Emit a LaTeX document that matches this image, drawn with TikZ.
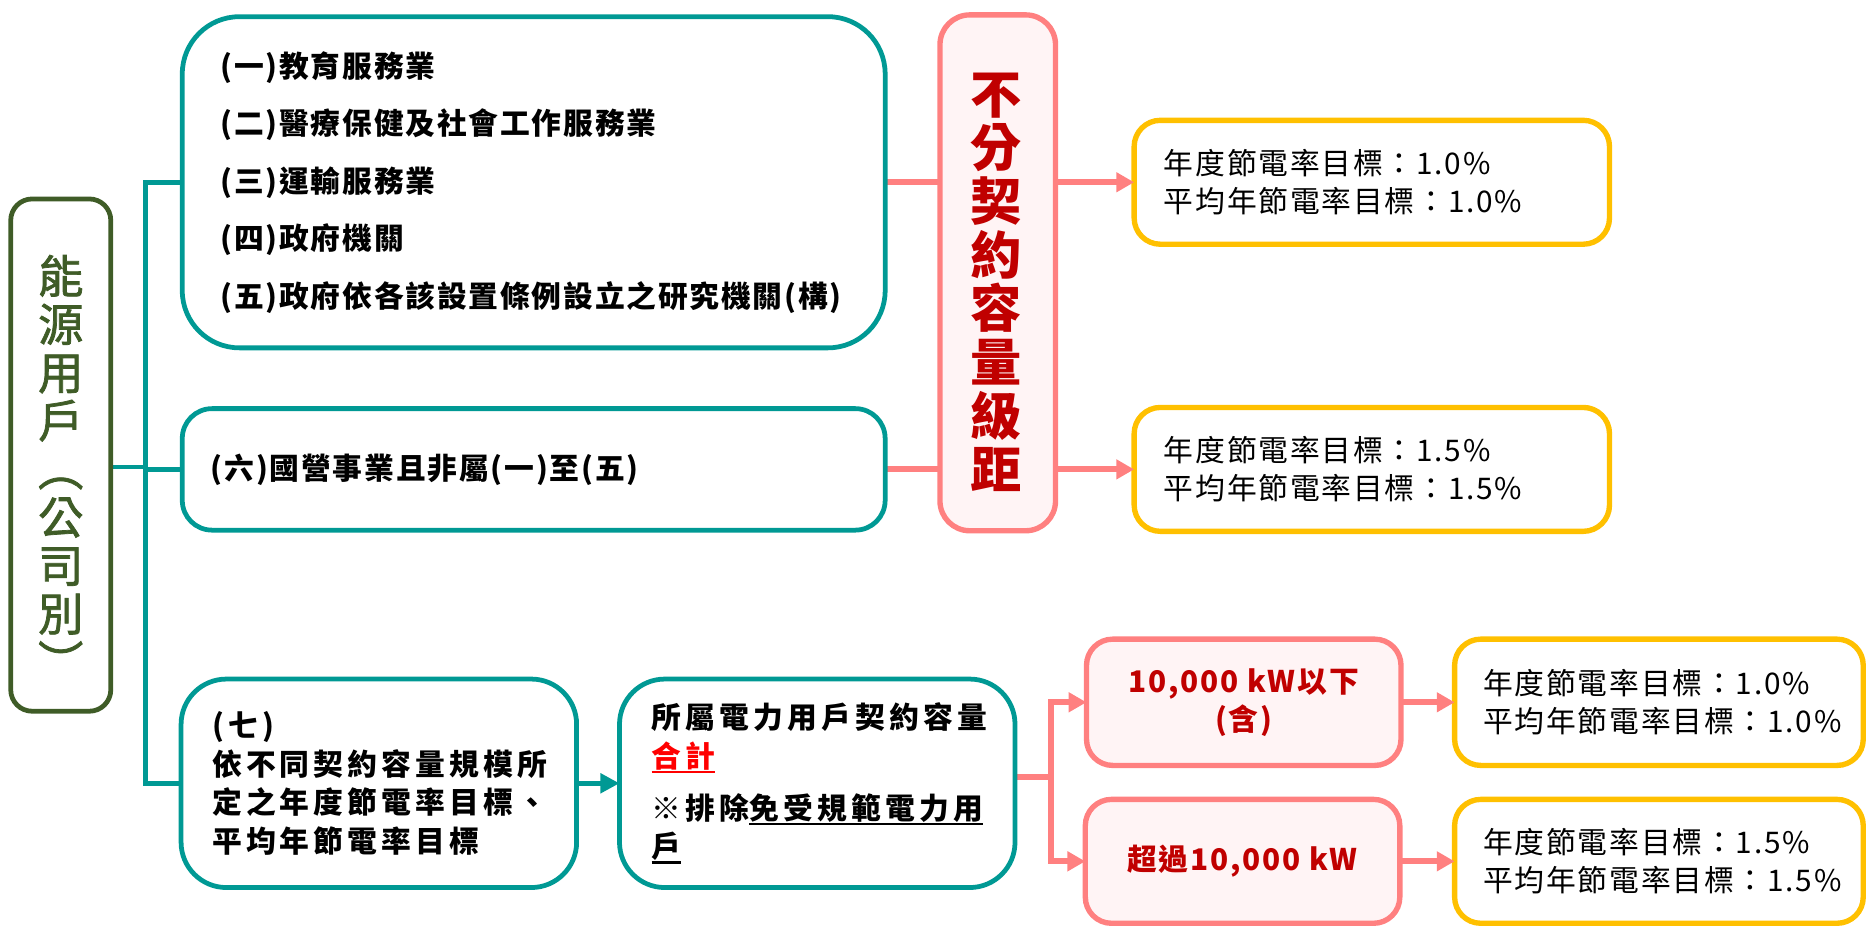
\documentclass[tikz,border=0pt]{standalone}
\usepackage{fontspec}
\newfontfamily\fd{Noto Sans CJK TC}
\newfontfamily\fg[FakeBold=1.6]{Noto Sans CJK TC}
\newfontfamily\fa[LetterSpace=6]{Noto Sans CJK TC}
\newfontfamily\fc[LetterSpace=14]{Noto Sans CJK TC}
\usetikzlibrary{arrows.meta,backgrounds}
\definecolor{greenc}{RGB}{63,92,39}
\definecolor{tealc}{RGB}{0,153,148}
\definecolor{pinkc}{RGB}{255,128,128}
\definecolor{pinkfill}{RGB}{255,244,245}
\definecolor{dred}{RGB}{192,0,0}
\definecolor{yellowc}{RGB}{255,192,0}
\definecolor{ulred}{RGB}{255,0,0}
\newcommand\myul[1]{\leavevmode\setbox0=\hbox{#1}\rlap{\raisebox{-5pt}{\rule{\wd0}{2pt}}}\box0}
\tikzset{
  gbox/.style={draw=greenc, line width=4pt, fill=white, outer sep=0pt, inner ysep=0pt},
  tbox/.style={draw=tealc, line width=4pt, fill=white, outer sep=0pt, inner ysep=0pt},
  pbox/.style={draw=pinkc, line width=4.5pt, fill=pinkfill, outer sep=0pt, inner ysep=0pt},
  ybox/.style={draw=yellowc, line width=4.5pt, fill=white, outer sep=0pt, inner ysep=0pt},
  tline/.style={draw=tealc, line width=4pt},
  pline/.style={draw=pinkc, line width=5pt},
  tarrow/.style={tline, -{Triangle[length=16pt,width=16pt]}},
  parrow/.style={pline, -{Triangle[length=15pt,width=16pt]}},
  boldtxt/.style={font=\fa\bfseries\fontsize{25}{48.3}\selectfont},
  ytxt/.style={font=\fa\fontsize{25}{32}\selectfont},
  widetxt/.style={font=\fc\bfseries\fontsize{25}{32.5}\selectfont}
}
\begin{document}
\begin{tikzpicture}[x=1pt,y=-1pt]
\useasboundingbox (0,0) rectangle (1568,778);
% left label
\node[gbox, rounded corners=18pt, minimum width=84pt, minimum height=430pt]
      (L) at (51,382) {};
\node[align=center, text=greenc, font=\fg\fontsize{38}{40.5}\selectfont, inner sep=0pt]
      (Ltext) at (51,392) {能\\源\\用\\戶\\︵\\公\\司\\別\\︶};
% top teal box
\node[tbox, rounded corners=48pt, minimum width=590pt, minimum height=278pt,
      text width=526pt, inner xsep=32pt, align=left, boldtxt]
      (T) at (448,153) {(一)教育服務業\\(二)醫療保健及社會工作服務業\\(三)運輸服務業\\(四)政府機關\\(五)政府依各該設置條例設立之研究機關(構)};
\node[tbox, rounded corners=25pt, minimum width=590pt, minimum height=102pt,
      text width=542pt, inner xsep=24pt, align=left, boldtxt]
      (S) at (448,394) {(六)國營事業且非屬(一)至(五)};
% pink vertical box
\node[pbox, rounded corners=25pt, minimum width=97pt, minimum height=433pt]
      (P) at (837.5,229) {};
\node[align=center, text=dred, font=\fd\bfseries\fontsize{43}{45}\selectfont, inner sep=0pt]
      (Ptext) at (836,237) {不\\分\\契\\約\\容\\量\\級\\距};
% yellow boxes
\node[ybox, rounded corners=22pt, minimum width=399pt, minimum height=104pt,
      text width=349pt, inner xsep=25pt, align=left, ytxt]
      (Y1) at (1151.5,153) {年度節電率目標：1.0\%\\平均年節電率目標：1.0\%};
\node[ybox, rounded corners=22pt, minimum width=399pt, minimum height=104pt,
      text width=349pt, inner xsep=25pt, align=left, ytxt]
      (Y2) at (1151.5,394) {年度節電率目標：1.5\%\\平均年節電率目標：1.5\%};
% bottom section
\node[tbox, rounded corners=38pt, minimum width=332pt, minimum height=175pt,
      text width=280pt, inner xsep=26pt, align=left, widetxt]
      (Seven) at (318,657.5) {(七)\\依不同契約容量規模所\\定之年度節電率目標、\\平均年節電率目標};
\node[tbox, rounded corners=38pt, minimum width=332pt, minimum height=175pt,
      text width=278pt, inner xsep=27pt, align=left, widetxt]
      (Eight) at (686,657.5) {所屬電力用戶契約容量\\\textcolor{ulred}{\myul{合計}}\\[11pt]※排除\myul{免受規範電力用}\\\myul{戶}};
\node[pbox, rounded corners=22pt, minimum width=264pt, minimum height=106pt,
      align=center, text=dred, font=\fa\bfseries\fontsize{25}{32}\selectfont]
      (A) at (1044,589.5) {10,000 kW以下\\(含)};
\node[pbox, rounded corners=22pt, minimum width=264pt, minimum height=104pt,
      align=center, text=dred, font=\fa\bfseries\fontsize{25}{32}\selectfont]
      (B) at (1043,723) {超過10,000 kW};
\node[ybox, rounded corners=22pt, minimum width=343pt, minimum height=106pt,
      text width=295pt, inner xsep=24pt, align=left, ytxt]
      (C) at (1392.5,589.5) {年度節電率目標：1.0\%\\平均年節電率目標：1.0\%};
\node[ybox, rounded corners=22pt, minimum width=343pt, minimum height=104pt,
      text width=295pt, inner xsep=24pt, align=left, ytxt]
      (D) at (1392.5,723) {年度節電率目標：1.5\%\\平均年節電率目標：1.5\%};
\coordinate (j) at (122,392);
\coordinate (k) at (882,652);
\begin{pgfonlayer}{background}
\draw[tline] (L.east |- j) -- (j);
\draw[tline] (T.west) -- (T.west -| j) -- (Seven.west -| j) -- (Seven.west);
\draw[tline] (S.west -| j) -- (S.west);
\draw[pline] (T.east) -- (T.east -| P.west);
\draw[pline] (S.east) -- (S.east -| P.west);
\draw[pline] (Eight.east |- k) -- (k);
\end{pgfonlayer}
\draw[parrow] (T.east -| P.east) -- (Y1.west);
\draw[parrow] (S.east -| P.east) -- (Y2.west);
\draw[tarrow] (Seven.east) -- (Eight.west);
\draw[parrow] (k) |- (A.west);
\draw[parrow] (k) |- (B.west);
\draw[parrow] (A.east) -- (C.west);
\draw[parrow] (B.east) -- (D.west);
\end{tikzpicture}
\end{document}
